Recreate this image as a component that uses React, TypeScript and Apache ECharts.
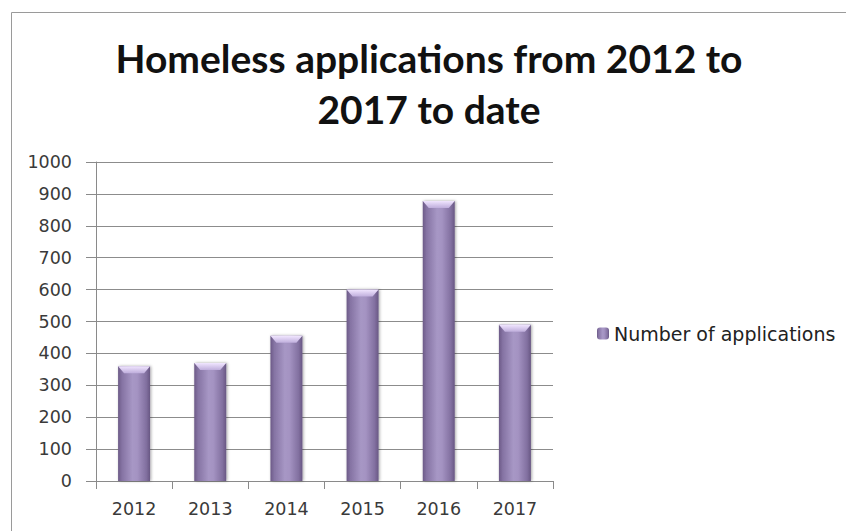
import React, { useEffect, useRef } from "react";
import * as echarts from "echarts";

const categories = ["2012", "2013", "2014", "2015", "2016", "2017"];
const applications = [360, 370, 455, 600, 878, 490];
const seriesName = "Number of applications";
const titleLines = ["Homeless applications from 2012 to", "2017 to date"];
const yTicks = { min: 0, max: 1000, interval: 100 };

export default function App() {
  const ref = useRef<HTMLDivElement>(null);
  useEffect(() => {
    if (!ref.current) return;
    const chart = echarts.init(ref.current, undefined, { renderer: "svg" });
    const barGradient = new echarts.graphic.LinearGradient(0, 0, 1, 0, [
      { offset: 0, color: "#6c5a87" },
      { offset: 0.12, color: "#8573a3" },
      { offset: 0.45, color: "#a797c5" },
      { offset: 0.6, color: "#a493c2" },
      { offset: 0.88, color: "#8270a0" },
      { offset: 1, color: "#685783" },
    ]);
    const labelFont = { fontFamily: "DejaVu Sans", fontSize: 17.5, color: "#3a3a3a" };
    chart.setOption({
      animation: false,
      backgroundColor: "#ffffff",
      title: {
        text: titleLines.join("\n"),
        left: 424,
        top: 27,
        textAlign: "center",
        textStyle: {
          fontFamily: "Lato",
          fontWeight: 700,
          fontSize: 39,
          lineHeight: 51,
          color: "#111111",
        },
      },
      graphic: [
        {
          type: "rect",
          shape: { x: 11.5, y: 12.5, width: 900, height: 600 },
          style: { fill: "none", stroke: "#9a9a9a", lineWidth: 1 },
          z: -1,
          silent: true,
        },
      ],
      legend: {
        data: [seriesName],
        left: 597,
        top: 324,
        padding: 0,
        itemWidth: 12,
        itemHeight: 12,
        itemGap: 10,
        textStyle: { fontFamily: "DejaVu Sans", fontSize: 19, color: "#222222" },
      },
      grid: { left: 96, top: 162, right: 293, bottom: 50, containLabel: false },
      xAxis: {
        type: "category",
        data: categories,
        boundaryGap: true,
        axisLine: { lineStyle: { color: "#8a8a8a", width: 1 } },
        axisTick: { show: true, length: 8, alignWithLabel: false, lineStyle: { color: "#8a8a8a" } },
        axisLabel: { ...labelFont, margin: 19 },
        splitLine: { show: false },
      },
      yAxis: {
        type: "value",
        min: yTicks.min,
        max: yTicks.max,
        interval: yTicks.interval,
        axisLine: { show: true, lineStyle: { color: "#8a8a8a", width: 1 } },
        axisTick: { show: true, length: 10, lineStyle: { color: "#8a8a8a" } },
        axisLabel: { ...labelFont, margin: 24, formatter: (v: number) => String(v) },
        splitLine: { show: true, lineStyle: { color: "#8c8c8c", width: 1 } },
      },
      series: [
        {
          name: seriesName,
          type: "bar",
          data: applications,
          barWidth: "42%",
          itemStyle: {
            color: barGradient,
            shadowColor: "rgba(0,0,0,0.35)",
            shadowBlur: 3,
            shadowOffsetX: 1,
            shadowOffsetY: 0,
          },
        },
        {
          name: "bevel",
          type: "custom",
          silent: true,
          z: 5,
          data: applications.map((v, i) => [i, v]),
          encode: { x: 0, y: 1 },
          renderItem: (params: any, api: any) => {
            const idx = api.value(0);
            const v = api.value(1);
            const top = api.coord([idx, v]);
            const bw = api.size([1, 0])[0] * 0.42;
            const x0 = top[0] - bw / 2;
            const x1 = top[0] + bw / 2;
            const y = top[1];
            const d = 7;
            const ins = 6;
            return {
              type: "polygon",
              shape: { points: [[x0, y], [x1, y], [x1 - ins, y + d], [x0 + ins, y + d]] },
              style: {
                fill: new echarts.graphic.LinearGradient(0, 0, 0, 1, [
                  { offset: 0, color: "#f1e6ff" },
                  { offset: 1, color: "#bfaedc" },
                ]),
              },
            };
          },
        },
      ],
    });
    return () => chart.dispose();
  }, []);
  return (
    <div
      ref={ref}
      style={{ position: "fixed", left: 0, top: 0, width: 846, height: 531, background: "#fff" }}
    />
  );
}
